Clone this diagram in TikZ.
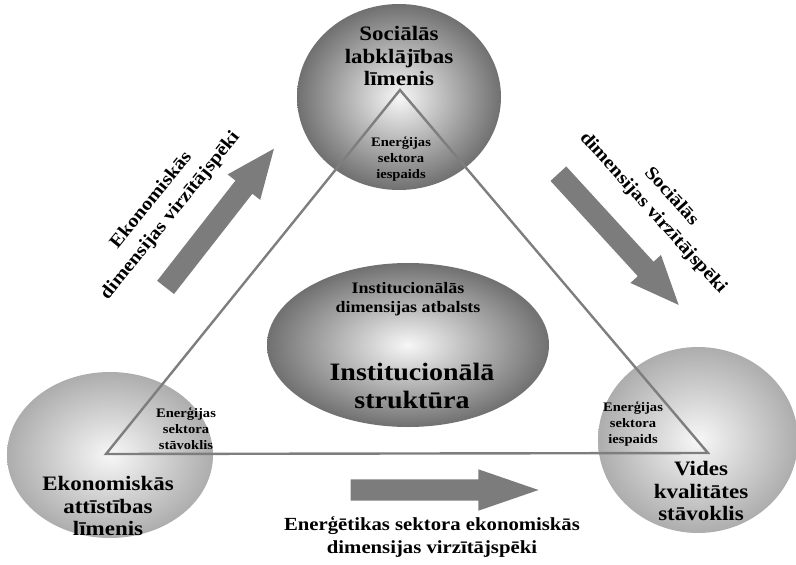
\documentclass[tikz,border=0pt]{standalone}
\usepackage{fontspec}
\setmainfont{Liberation Serif}[FakeStretch=1.12]
\usepackage{xcolor}
\definecolor{pelekTumss}{HTML}{707070}
\definecolor{pelekVidejs}{HTML}{ADADAD}
\definecolor{pelekGaiss}{HTML}{F7F7F7}
\definecolor{pelekLinija}{HTML}{7E7E7E}
\definecolor{pelekBulta}{HTML}{7C7C7C}
\usepackage{tikz}
\usetikzlibrary{shapes.geometric, shapes.arrows}
\tikzset{
  %% ── Spheres ──────────────────────────────────────────────────────────
  %% The top sphere and the central ellipse are darker; the two lower
  %% spheres are pale, so the text on them stays readable.
  sfera/.style      = {ellipse, inner sep=0pt, draw=none,
                       inner color=pelekGaiss, outer color=pelekTumss},
  sferaGaisa/.style = {sfera, outer color=pelekVidejs},
  %%
  %% ── Lines and arrows ─────────────────────────────────────────────────
  trijsturis/.style = {draw=pelekLinija, line width=2.4pt, line join=miter},
  bulta/.style      = {single arrow, fill=pelekBulta, draw=none,
                       inner xsep=0pt, inner ysep=10.5pt,
                       single arrow head extend=10pt,
                       single arrow tip angle=46},
  %%
  %% ── Text ─────────────────────────────────────────────────────────────
  uzrakstsLiels/.style  = {font=\fontsize{20.5}{22.5}\selectfont\bfseries,
                           align=center, inner sep=0pt},
  uzrakstsMazs/.style   = {font=\fontsize{13}{16}\selectfont\bfseries,
                           align=center, inner sep=0pt},
  uzrakstsVidejs/.style = {font=\fontsize{18.5}{23.5}\selectfont\bfseries,
                           align=center, inner sep=0pt},
  uzrakstsSlips/.style  = {uzrakstsVidejs,
                           font=\fontsize{18.5}{24.5}\selectfont\bfseries},
}

\begin{document}
\begin{tikzpicture}[x=1pt, y=-1pt]
\useasboundingbox (0,0) rectangle (796,565);

\node[sfera, minimum width=204, minimum height=186] (soc) at (399, 97) {};
\node[sferaGaisa, minimum width=206, minimum height=166] (eko) at (110, 455) {};
\node[sferaGaisa, minimum width=200, minimum height=186] (vid) at (698, 440) {};
\node[sfera, minimum width=282, minimum height=164] (inst) at (408, 345) {};

\coordinate (vSoc) at (400, 90);
\coordinate (vEko) at (106, 454);
\coordinate (vVid) at (708, 453);
\draw[trijsturis] (vSoc) -- (vEko) -- (vVid) -- cycle;

\node[bulta, minimum height=176, rotate=52] (bEko) at (212, 228) {};
\node[bulta, minimum height=178, rotate=-47.5] (bSoc) at (610, 230) {};
\node[bulta, minimum height=188, single arrow tip angle=38] (bEne) at (429, 490) {};

\node[uzrakstsLiels] (tSoc) at (399, 56) {Sociālās\\labklājības\\līmenis};
\node[uzrakstsLiels] (tEko) at (108, 506) {Ekonomiskās\\attīstības\\līmenis};
\node[uzrakstsLiels] (tVid) at (701, 491) {Vides\\kvalitātes\\stāvoklis};

\node[uzrakstsMazs] (eSoc) at (401, 159) {Enerģijas\\sektora\\iespaids};
\node[uzrakstsMazs] (eEko) at (186, 429) {Enerģijas\\sektora\\stāvoklis};
\node[uzrakstsMazs] (eVid) at (633, 424) {Enerģijas\\sektora\\iespaids};

\node[uzrakstsSlips, rotate=51] (dEko) at (161, 208)
     {Ekonomiskās\\dimensijas virzītājspēki};
\node[uzrakstsSlips, rotate=-48] (dSoc) at (662, 205)
     {Sociālās\\dimensijas virzītājspēki};
\node[uzrakstsVidejs] (dEne) at (432, 537)
     {Enerģētikas sektora ekonomiskās\\dimensijas virzītājspēki};

\node[font=\fontsize{16}{19}\selectfont\bfseries, align=center, inner sep=0pt]
     (iAtb) at (408, 299) {Institucionālās\\dimensijas atbalsts};
\node[font=\fontsize{25}{28}\selectfont\bfseries, align=center, inner sep=0pt]
     (iStr) at (412, 386) {Institucionālā\\struktūra};

\end{tikzpicture}
\end{document}
